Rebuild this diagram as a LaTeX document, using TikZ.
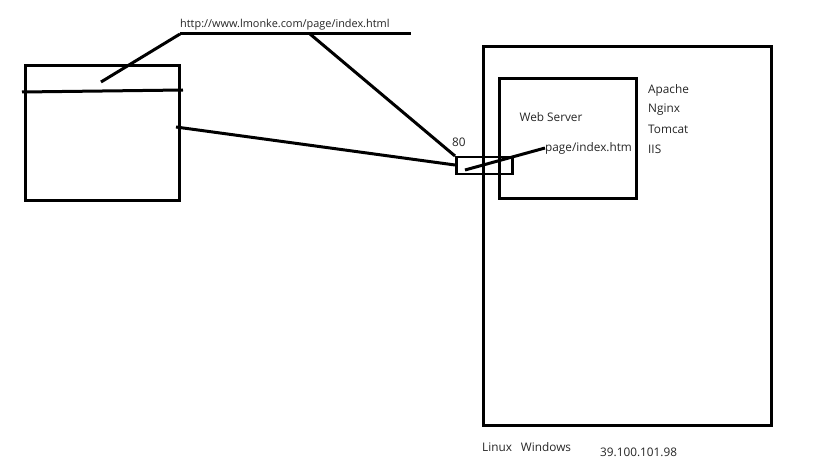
\documentclass[tikz,border=0pt]{standalone}
\usepackage{fontspec}
\setmainfont{Open Sans}
\begin{document}
\begin{tikzpicture}[x=1pt,y=-1pt,
  ln/.style={line width=3pt},
  bx/.style={draw,line width=3pt,inner sep=0pt,anchor=north west},
  lbl/.style={font=\fontsize{11.8}{13}\selectfont,inner sep=0pt,text=black!85}]
\useasboundingbox[fill=white] (0,0) rectangle (831,476);
% left browser box
\node[bx,minimum width=154pt,minimum height=135pt] (client) at (24,64) {};
\coordinate (barL) at (22,92);
\coordinate (barR) at (183,90);
\draw[ln] (barL) -- (barR);
\coordinate (addr) at (101,82);
\coordinate (clientport) at (176,127);
% URL
\node[lbl,font=\fontsize{10.9}{13}\selectfont,anchor=west] (url) at (180,25) {http://www.lmonke.com/page/index.html};
\coordinate (ulL) at (180,34);
\coordinate (ulR) at (411,34);
\coordinate (ulM) at (310,34);
\draw[ln] (ulL) -- (ulR);
\draw[ln] (addr) -- (ulL);
% server
\node[bx,minimum width=288pt,minimum height=379pt] (server) at (482,45) {};
\node[bx,minimum width=137pt,minimum height=120pt] (web) at (498,77) {};
\node[draw,line width=2.5pt,inner sep=0pt,anchor=north west,minimum width=56pt,minimum height=17pt] (port) at (455,156) {};
\node[lbl,anchor=south west] (p80) at (452,147) {80};
\draw[ln] (ulM) -- (port.north west);
\draw[ln] (clientport) -- ([yshift=-9pt]port.north west);
\node[lbl] (ws) at (551,117) {Web Server};
\node[lbl,anchor=west] (page) at (545,148) {page/index.htm};
\draw[ln] ([xshift=10pt,yshift=-14pt]port.north west) -- (page.west);
\node[lbl,anchor=west] (apache) at (648,90) {Apache};
\node[lbl,anchor=west] (nginx) at (648,110) {Nginx};
\node[lbl,anchor=west] (tomcat) at (648,129) {Tomcat};
\node[lbl,anchor=west] (iis) at (648,149) {IIS};
\node[lbl,anchor=west] (os) at (482,447) {Linux\hspace{9pt}Windows};
\node[lbl,anchor=west] (ip) at (600,452) {39.100.101.98};
\end{tikzpicture}
\end{document}
